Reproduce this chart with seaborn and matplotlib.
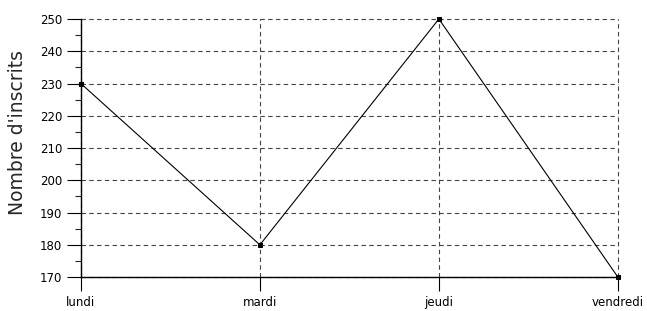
import matplotlib
matplotlib.use("Agg")
import matplotlib.pyplot as plt
import seaborn as sns
import pandas as pd
from matplotlib.ticker import MultipleLocator

jours = ["lundi", "mardi", "jeudi", "vendredi"]
inscrits = [230, 180, 250, 170]

df = pd.DataFrame({"jour": jours, "inscrits": inscrits})

sns.set_style("white")
plt.rcParams['font.family'] = ['DejaVu Sans']

fig = plt.figure(figsize=(6.47, 3.11), dpi=100)
ax = fig.add_axes([0.125, 0.109, 0.83, 0.83])

sns.lineplot(data=df, x="jour", y="inscrits", sort=False, color="black",
             linewidth=0.8, marker="s", markersize=3.5, markeredgecolor="black",
             clip_on=False, zorder=5, ax=ax)

ax.set_xlim(0, 3)
ax.set_ylim(170, 250)
ax.yaxis.set_major_locator(MultipleLocator(10))
ax.yaxis.set_minor_locator(MultipleLocator(5))

ax.grid(True, which="major", linestyle=(0, (4, 3)), color="#444444", linewidth=0.8)
ax.set_axisbelow(True)
for gl in ax.get_xgridlines() + ax.get_ygridlines():
    gl.set_clip_on(False)

for s in ["top", "right"]:
    ax.spines[s].set_visible(False)
for s in ["left", "bottom"]:
    ax.spines[s].set_color("black")
    ax.spines[s].set_linewidth(1.0)

ax.tick_params(axis="both", which="major", direction="out", length=10, width=0.8,
               labelsize=8.5, colors="black", left=True, bottom=True)
ax.tick_params(axis="y", which="minor", direction="out", length=4, width=0.8, left=True)

ax.set_xlabel("")
ax.set_ylabel("Nombre d'inscrits", fontsize=13.5, labelpad=9)
ax.yaxis.set_label_coords(-0.1, 0.56)

fig.savefig("out.png", dpi=100)
